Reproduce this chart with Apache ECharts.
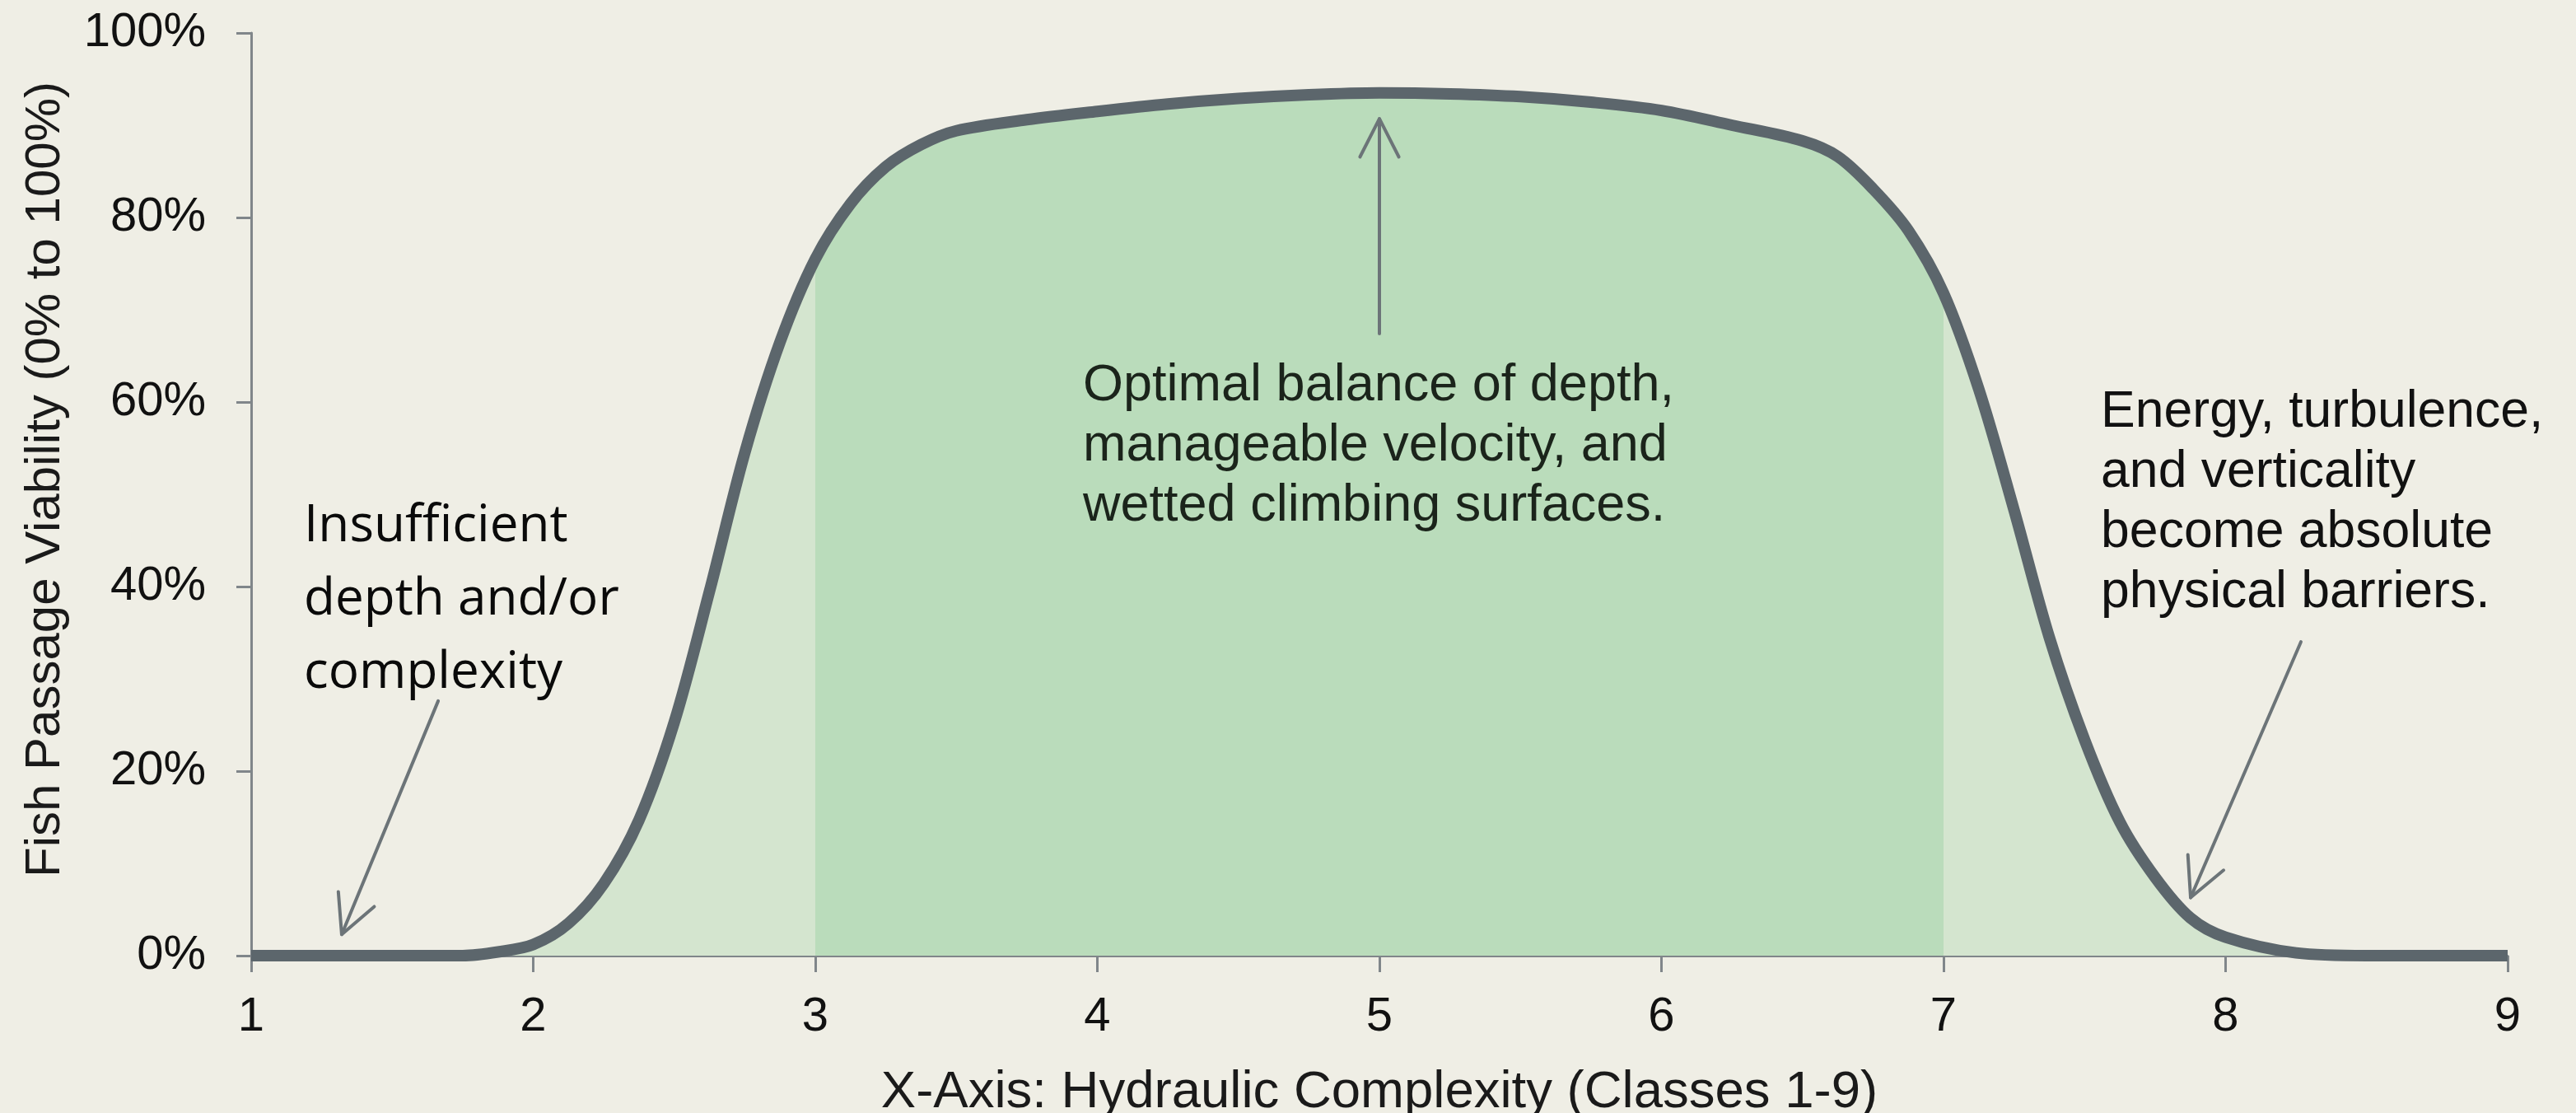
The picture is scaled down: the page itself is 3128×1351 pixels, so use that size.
<!DOCTYPE html>
<html><head><meta charset="utf-8">
<script src="https://cdn.jsdelivr.net/npm/echarts@6/dist/echarts.min.js"></script>
<style>html,body{margin:0;padding:0;background:#efeee5;} #c{width:3128px;height:1351px;}</style>
</head><body><div id="c"></div>
<script>
// ---- data ----
const complexityClass = [1, 1.25, 1.5, 1.75, 1.875, 2, 2.125, 2.25, 2.375, 2.5, 2.625, 2.75, 2.875, 3, 3.125, 3.25, 3.375, 3.5, 3.75, 4, 4.25, 4.5, 4.75, 5, 5.25, 5.5, 5.75, 6, 6.25, 6.5, 6.625, 6.75, 6.875, 7, 7.125, 7.25, 7.375, 7.5, 7.625, 7.75, 7.875, 8, 8.25, 8.5, 8.75, 9];
const viability = [0, 0, 0, 0, 0.4, 1.2, 3.5, 7.8, 14.7, 25.3, 39.5, 54.5, 66.5, 75.5, 81.5, 85.5, 87.9, 89.4, 90.6, 91.5, 92.3, 92.9, 93.3, 93.5, 93.4, 93.1, 92.5, 91.6, 90.0, 88.3, 86.6, 83.1, 78.6, 71.8, 61.4, 48.3, 34.5, 23.4, 14.5, 8.5, 4.1, 2.0, 0.3, 0, 0, 0];
const optimalBand = [3, 7];
const yTicks = [0, 20, 40, 60, 80, 100];

const annotationTexts = [
  ['Insufficient', 'depth and/or', 'complexity'],
  ['Optimal balance of depth,', 'manageable velocity, and', 'wetted climbing surfaces.'],
  ['Energy, turbulence,', 'and verticality', 'become absolute', 'physical barriers.']
];
const annotationAnchors = [[1.187, 46.5], [3.949, 61.7], [7.558, 58.9]];
const arrowFrom = [[1.663, 27.6], [5, 67.4], [8.267, 34.0]];
const arrowTo = [[1.321, 2.3], [5, 90.7], [7.876, 6.3]];

// ---- build ----
const curve = complexityClass.map((x, i) => [x, viability[i]]);
const bandCurve = curve.filter(p => p[0] >= optimalBand[0] && p[0] <= optimalBand[1]);

const AXIS = '#80868a';
const FONT = 'Liberation Sans';
const SMOOTH = 0.33;

const option = {
  backgroundColor: '#efeee5',
  animation: false,
  grid: { left: 305, right: 83, top: 40, bottom: 191, containLabel: false, outerBoundsMode: 'none' },
  xAxis: {
    type: 'value', min: 1, max: 9, interval: 1,
    name: 'X-Axis: Hydraulic Complexity (Classes 1-9)',
    nameLocation: 'middle', nameGap: 134,
    nameTextStyle: { fontFamily: FONT, fontSize: 63.5, color: '#1a1a1a' },
    axisLine: { show: true, onZero: false, lineStyle: { color: AXIS, width: 3 } },
    axisTick: { show: true, length: 20, lineStyle: { color: AXIS, width: 3 } },
    axisLabel: { fontFamily: FONT, fontSize: 58, color: '#111', margin: 46 },
    splitLine: { show: false }
  },
  yAxis: {
    type: 'value', min: yTicks[0], max: yTicks[yTicks.length - 1], interval: yTicks[1] - yTicks[0],
    name: 'Fish Passage Viability (0% to 100%)',
    nameLocation: 'middle', nameGap: 220,
    nameTextStyle: { fontFamily: FONT, fontSize: 60, color: '#1a1a1a', padding: [0, 0, 0, 36] },
    axisLine: { show: true, lineStyle: { color: AXIS, width: 3 } },
    axisTick: { show: true, length: 18, lineStyle: { color: AXIS, width: 3 } },
    axisLabel: { fontFamily: FONT, fontSize: 58, color: '#111', margin: 55, formatter: '{value}%' },
    splitLine: { show: false }
  },
  series: [
    { type: 'line', data: curve, smooth: SMOOTH, symbol: 'none', silent: true,
      lineStyle: { width: 0, opacity: 0 }, areaStyle: { color: '#d4e5cf', opacity: 1 }, z: 1 },
    { type: 'line', data: bandCurve, smooth: SMOOTH, symbol: 'none', silent: true,
      lineStyle: { width: 0, opacity: 0 }, areaStyle: { color: '#badcbb', opacity: 1 }, z: 2 },
    { type: 'line', data: curve, smooth: SMOOTH, symbol: 'none', silent: true,
      lineStyle: { width: 14, color: '#5c666c', cap: 'butt', join: 'round' }, z: 5 }
  ]
};

const chart = echarts.init(document.getElementById('c'), null, { renderer: 'canvas' });
chart.setOption(option);

const toPx = p => chart.convertToPixel({ gridIndex: 0 }, p);
const styles = [
  { font: 'Open Sans', size: 62, gap: 89, color: '#0a0a0a' },
  { font: FONT, size: 63, gap: 73, color: '#1b241b' },
  { font: FONT, size: 62.5, gap: 73, color: '#111' }
];
const elements = [];
annotationTexts.forEach((lines, k) => {
  const a = toPx(annotationAnchors[k]);
  const s = styles[k];
  lines.forEach((t, j) => {
    elements.push({ type: 'text', x: a[0], y: a[1] + j * s.gap, z: 20,
      style: { text: t, fontFamily: s.font, fontSize: s.size, fill: s.color,
               textAlign: 'left', textVerticalAlign: 'middle' } });
  });
});
arrowFrom.forEach((f, k) => {
  const p0 = toPx(f), p1 = toPx(arrowTo[k]);
  const dx = p1[0] - p0[0], dy = p1[1] - p0[1];
  const len = Math.hypot(dx, dy), ux = dx / len, uy = dy / len;
  const L = 52, ang = 27 * Math.PI / 180;
  const rot = (a) => [ux * Math.cos(a) - uy * Math.sin(a), ux * Math.sin(a) + uy * Math.cos(a)];
  const r1 = rot(ang), r2 = rot(-ang);
  const stroke = { stroke: '#6c7478', lineWidth: 4, fill: null, lineCap: 'round', lineJoin: 'round' };
  elements.push({ type: 'line', z: 15, shape: { x1: p0[0], y1: p0[1], x2: p1[0], y2: p1[1] }, style: stroke });
  elements.push({ type: 'polyline', z: 15, shape: { points: [
    [p1[0] - L * r1[0], p1[1] - L * r1[1]], p1, [p1[0] - L * r2[0], p1[1] - L * r2[1]] ] }, style: stroke });
});
chart.setOption({ graphic: { elements: elements } });
</script></body></html>
